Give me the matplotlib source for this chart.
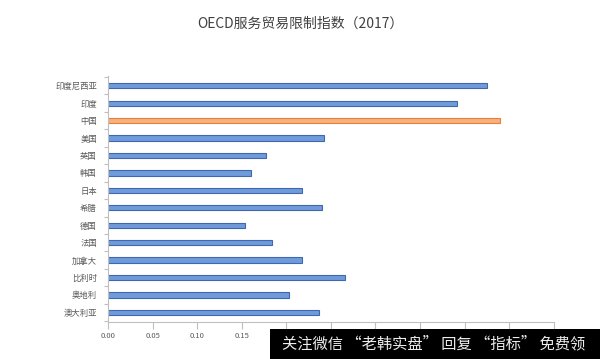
import numpy as np
import matplotlib.pyplot as plt
from matplotlib.patches import Rectangle

plt.rcParams['font.family'] = ['Noto Sans CJK SC', 'DejaVu Sans']

# data (top to bottom as in the picture)
countries = ["印度尼西亚", "印度", "中国", "美国", "英国", "韩国", "日本",
             "希腊", "德国", "法国", "加拿大", "比利时", "奥地利", "澳大利亚"]
values = [0.425, 0.391, 0.440, 0.242, 0.177, 0.160, 0.218,
          0.240, 0.154, 0.184, 0.218, 0.266, 0.203, 0.237]
highlight = "中国"
xticks = [0.00, 0.05, 0.10, 0.15, 0.20, 0.25, 0.30, 0.35, 0.40, 0.45, 0.50]

fig = plt.figure(figsize=(6, 3.59), dpi=100)
ax = fig.add_axes([0.18, 0.103, 0.743, 0.685])

y = np.arange(len(countries))[::-1]
face = ["#F4B183" if c == highlight else "#6F9BDB" for c in countries]
edge = ["#ED7D31" if c == highlight else "#3F68B0" for c in countries]
ax.barh(y, values, height=0.3, color=face, edgecolor=edge, linewidth=0.8)

ax.set_xlim(0, 0.5)
ax.set_ylim(-0.55, len(countries) - 0.45)
ax.set_xticks(xticks)
ax.set_xticklabels([f"{t:.2f}" for t in xticks], fontsize=5.5, color="#595959")
ax.set_yticks(y)
ax.set_yticklabels(countries, fontsize=6, color="#595959")
ax.tick_params(axis="y", length=0, pad=8)
ax.tick_params(axis="x", length=5, color="#BFBFBF", width=0.8, pad=2)
ax.set_yticks(np.arange(-0.5, len(countries), 1), minor=True)
ax.tick_params(axis="y", which="minor", length=3, color="#BFBFBF", width=0.8)

for s in ["top", "right"]:
    ax.spines[s].set_visible(False)
for s in ["left", "bottom"]:
    ax.spines[s].set_color("#BFBFBF")
    ax.spines[s].set_linewidth(0.8)

fig.text(0.5, 0.935, "OECD服务贸易限制指数（2017）", ha="center", va="center",
         fontsize=10, color="#404040")

# watermark strip at the bottom (covers part of the x tick labels, as in the source)
fig.patches.append(Rectangle((270 / 600, 0), 330 / 600, 30 / 359,
                             transform=fig.transFigure, facecolor="black",
                             edgecolor="none", zorder=5))
fig.text(434 / 600, 15 / 359, "关注微信 “老韩实盘” 回复 “指标” 免费领",
         ha="center", va="center", fontsize=11, color="#EDEDED", zorder=6)

fig.savefig("out.png", dpi=100)
